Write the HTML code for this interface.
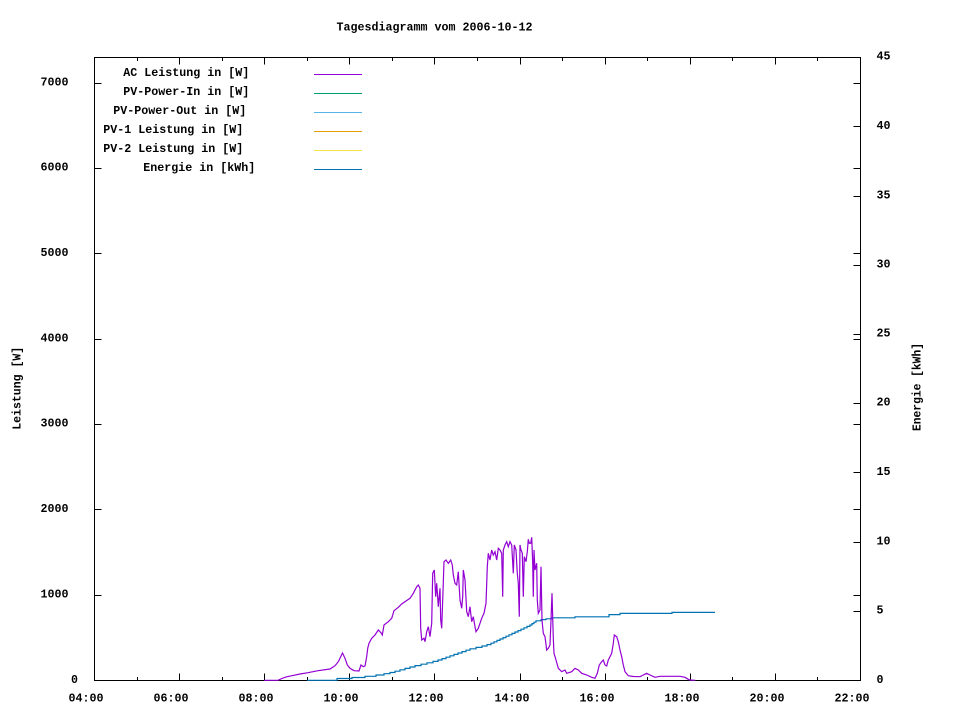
<!DOCTYPE html>
<html><head><meta charset="utf-8"><style>
html,body{margin:0;padding:0;background:#fff;}
svg{display:block;}
text{font-family:"Liberation Mono",monospace;font-weight:bold;font-size:11.6px;fill:#000;}
</style></head><body>
<svg width="960" height="720" viewBox="0 0 960 720" xmlns="http://www.w3.org/2000/svg">
<rect width="960" height="720" fill="#fff"/>
<text x="336.5" y="30.5" textLength="196" lengthAdjust="spacingAndGlyphs">Tagesdiagramm vom 2006-10-12</text>

<!-- frame -->
<rect x="94.5" y="57.5" width="766" height="623" fill="none" stroke="#000" stroke-width="1"/>
<!-- ticks -->
<path stroke="#000" stroke-width="1" fill="none" d="
M179.5,680.5V673.5 M264.5,680.5V673.5 M349.5,680.5V673.5 M434.5,680.5V673.5 M520.5,680.5V673.5 M605.5,680.5V673.5 M690.5,680.5V673.5 M775.5,680.5V673.5
M137.5,680.5V677 M222.5,680.5V677 M307.5,680.5V677 M392.5,680.5V677 M477.5,680.5V677 M562.5,680.5V677 M647.5,680.5V677 M732.5,680.5V677 M817.5,680.5V677
M179.5,57.5V64.5 M264.5,57.5V64.5 M349.5,57.5V64.5 M434.5,57.5V64.5 M520.5,57.5V64.5 M605.5,57.5V64.5 M690.5,57.5V64.5 M775.5,57.5V64.5
M137.5,57.5V61 M222.5,57.5V61 M307.5,57.5V61 M392.5,57.5V61 M477.5,57.5V61 M562.5,57.5V61 M647.5,57.5V61 M732.5,57.5V61 M817.5,57.5V61
M94.5,595.5H101.5 M94.5,509.5H101.5 M94.5,424.5H101.5 M94.5,339.5H101.5 M94.5,253.5H101.5 M94.5,168.5H101.5 M94.5,83.5H101.5
M860.5,595.5H853.5 M860.5,509.5H853.5 M860.5,424.5H853.5 M860.5,339.5H853.5 M860.5,253.5H853.5 M860.5,168.5H853.5 M860.5,83.5H853.5
M860.5,611.5H853.5 M860.5,542.5H853.5 M860.5,472.5H853.5 M860.5,403.5H853.5 M860.5,334.5H853.5 M860.5,265.5H853.5 M860.5,196.5H853.5 M860.5,126.5H853.5
"/>

<!-- left labels -->
<text x="71" y="683">0</text>
<text x="40.5" y="597.5" textLength="28" lengthAdjust="spacingAndGlyphs">1000</text>
<text x="40.5" y="512" textLength="28" lengthAdjust="spacingAndGlyphs">2000</text>
<text x="40.5" y="426.5" textLength="28" lengthAdjust="spacingAndGlyphs">3000</text>
<text x="40.5" y="341.5" textLength="28" lengthAdjust="spacingAndGlyphs">4000</text>
<text x="40.5" y="256" textLength="28" lengthAdjust="spacingAndGlyphs">5000</text>
<text x="40.5" y="170.5" textLength="28" lengthAdjust="spacingAndGlyphs">6000</text>
<text x="40.5" y="85.5" textLength="28" lengthAdjust="spacingAndGlyphs">7000</text>

<!-- right labels -->
<text x="876.5" y="683">0</text>
<text x="876.5" y="613.5">5</text>
<text x="876.5" y="544.5" textLength="14" lengthAdjust="spacingAndGlyphs">10</text>
<text x="876.5" y="475" textLength="14" lengthAdjust="spacingAndGlyphs">15</text>
<text x="876.5" y="405.5" textLength="14" lengthAdjust="spacingAndGlyphs">20</text>
<text x="876.5" y="336.5" textLength="14" lengthAdjust="spacingAndGlyphs">25</text>
<text x="876.5" y="267.5" textLength="14" lengthAdjust="spacingAndGlyphs">30</text>
<text x="876.5" y="198.5" textLength="14" lengthAdjust="spacingAndGlyphs">35</text>
<text x="876.5" y="129" textLength="14" lengthAdjust="spacingAndGlyphs">40</text>
<text x="876.5" y="59.5" textLength="14" lengthAdjust="spacingAndGlyphs">45</text>

<!-- x labels -->
<text x="68.5" y="701.5" textLength="35" lengthAdjust="spacingAndGlyphs">04:00</text>
<text x="153.5" y="701.5" textLength="35" lengthAdjust="spacingAndGlyphs">06:00</text>
<text x="238.5" y="701.5" textLength="35" lengthAdjust="spacingAndGlyphs">08:00</text>
<text x="323.5" y="701.5" textLength="35" lengthAdjust="spacingAndGlyphs">10:00</text>
<text x="408.5" y="701.5" textLength="35" lengthAdjust="spacingAndGlyphs">12:00</text>
<text x="494.5" y="701.5" textLength="35" lengthAdjust="spacingAndGlyphs">14:00</text>
<text x="579.5" y="701.5" textLength="35" lengthAdjust="spacingAndGlyphs">16:00</text>
<text x="664.5" y="701.5" textLength="35" lengthAdjust="spacingAndGlyphs">18:00</text>
<text x="749.5" y="701.5" textLength="35" lengthAdjust="spacingAndGlyphs">20:00</text>
<text x="834.5" y="701.5" textLength="35" lengthAdjust="spacingAndGlyphs">22:00</text>

<!-- axis titles -->
<text transform="translate(20.4,388.3) rotate(-90)" text-anchor="middle" textLength="83" lengthAdjust="spacingAndGlyphs">Leistung [W]</text>
<text transform="translate(920.4,387) rotate(-90)" text-anchor="middle" textLength="88" lengthAdjust="spacingAndGlyphs">Energie [kWh]</text>

<!-- legend -->
<text x="123.3" y="76" textLength="126" lengthAdjust="spacingAndGlyphs">AC Leistung in [W]</text>
<text x="123.3" y="95" textLength="126" lengthAdjust="spacingAndGlyphs">PV-Power-In in [W]</text>
<text x="113.3" y="114" textLength="133" lengthAdjust="spacingAndGlyphs">PV-Power-Out in [W]</text>
<text x="103.3" y="133" textLength="140" lengthAdjust="spacingAndGlyphs">PV-1 Leistung in [W]</text>
<text x="103.3" y="152" textLength="140" lengthAdjust="spacingAndGlyphs">PV-2 Leistung in [W]</text>
<text x="143.3" y="171" textLength="112" lengthAdjust="spacingAndGlyphs">Energie in [kWh]</text>
<g stroke-width="1">
<path d="M314,74.5H362" stroke="#9400d3"/>
<path d="M314,93.5H362" stroke="#009e73"/>
<path d="M314,112.5H362" stroke="#56b4e9"/>
<path d="M314,131.5H362" stroke="#e69f00"/>
<path d="M314,150.5H362" stroke="#f0e442"/>
<path d="M314,169.5H362" stroke="#0072b2"/>
</g>

<!-- energy staircase -->
<path fill="none" stroke="#0072b2" stroke-width="1.2" d="M307,680.3 H337 V678.5 H352 V677.5 H365 V676.3 H376 V675 H384 V673.7 H390 V672.5 H395 V671.2 H400 V669.8 H405 V668.4 H410 V667 H415 V665.6 H421 V664.2 H427 V662.8 H433 V661.4 H438 V660 H442 V658.6 H446 V657.2 H450 V655.8 H454 V654.4 H458 V653 H462 V651.6 H466 V650.2 H470 V648.8 H476 V647.4 H482 V646 H487 V644.6 H491 V643.2 H494 V641.8 H497 V640.4 H500 V639 H503 V637.6 H506 V636.2 H509 V634.8 H512 V633.4 H515 V632 H518 V630.6 H521 V629.2 H524 V627.8 H527 V626.4 H530 V625 H532 V623.6 H534 V622.2 H536 V620.8 H541 V619.6 H546 V618.8 H552 V617.8 H575 V616.8 H609 V614.6 H620 V613.4 H672 V612.4 H715"/>

<!-- AC power -->
<polyline fill="none" stroke="#9400d3" stroke-width="1.2" stroke-linejoin="miter" points="264,680.3 278,680.3 283,678 287,676.7 292,675.7 300,674 308,672.7 318,670.7 330,669 335,665.7 338.3,661.7 340.7,656.7 342.5,653 345,658.3 347.3,665 350,668.3 354,670.7 359,671 361,665 363.3,666.7 365,666 366.7,656.7 367.7,648.3 369,643.3 371.7,638.3 375,635 378.3,630 381,632.7 382.3,635 384,625 388.3,621.7 391.7,618.3 394,610.7 398.3,607.3 401.7,604 406,601 410,598.3 413.3,593.3 416.7,586.7 418.3,585 420,588.3 420.7,628.3 421.7,640 424,638.3 425,641.7 426.7,631.7 428.3,626.7 430,636.7 431.7,623.3 432.7,573.3 434.3,570 435.7,596.7 436.7,583.3 438.3,606.7 440,588.3 440.7,620 441.7,628.3 442.7,600 444,561.7 446,560 448.3,563.3 450.7,560 452.3,565 453.3,575 455,583.3 456.7,585 458.3,571.7 460,600 461.7,608.3 462.7,596.7 463.3,570 465,580 466.7,611.7 468.3,616.7 470,606.7 471.7,621.7 473.3,616.7 475,626.7 476,631.7 478.3,628.3 480,623.3 481.7,618.3 484,613.3 486,603.3 487.3,566.7 488.3,553.3 490,560 491.7,550 493.3,555 495,551.7 496.7,560 498.3,548.3 500,550 501.7,553.3 502.7,596.7 503.3,550 505,545 506.7,541.7 508.3,546.7 510,541.7 511.7,545 513.3,573.3 514.3,545 516,550 517.3,573.3 518.3,583.3 519.3,616.7 520,545 521,550 522.3,553.3 523.3,596.7 524.3,556.7 526,561.7 527.3,551.7 528.3,539.3 529.3,543.3 530.7,543.3 531.7,537.3 532.7,563.3 533.3,596.7 534,550 535,570 536.7,563.3 537.3,600 538.3,613.3 540,610 541,566.7 542,620 543.3,633.3 545,636.7 546.7,650 548.3,648.3 550,645 551,620 552,593.3 553.3,638.3 554,653.3 556,660 558.3,668.3 561.7,671.7 565,670 566.7,673.3 571.7,671.7 575,668.3 578.3,670 581.7,673.3 586.7,675 591.7,677.3 595,678.3 597.3,673.3 599.3,665 601.7,661.7 603.3,660 605,665 606.7,666 608.3,660 610,656.7 611.7,653.3 613.3,643.3 614.3,635 616.7,636.7 618.3,641.7 620,650 621.7,656.7 623.3,665 625,671.7 628.3,675.7 633.3,676.5 640,676.7 643.3,675 646.7,673.3 650,675 655,677.3 660,676.3 680,676.3 685,677.3 688.3,679.3 690,680 695.3,680.3"/>
</svg>
</body></html>
